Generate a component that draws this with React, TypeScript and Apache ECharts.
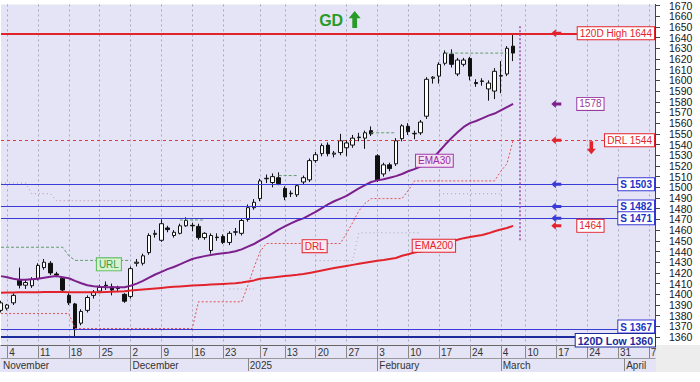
import React, { useEffect, useRef } from "react";
import * as echarts from "echarts";

const tradingDays = [
  "Nov 1",
  "Nov 4", "Nov 5", "Nov 6", "Nov 7", "Nov 8",
  "Nov 11", "Nov 12", "Nov 13", "Nov 14", "Nov 15",
  "Nov 18", "Nov 19", "Nov 20", "Nov 21", "Nov 22",
  "Nov 25", "Nov 26", "Nov 27", "Nov 28", "Nov 29",
  "Dec 2", "Dec 3", "Dec 4", "Dec 5", "Dec 6",
  "Dec 9", "Dec 10", "Dec 11", "Dec 12", "Dec 13",
  "Dec 16", "Dec 17", "Dec 18", "Dec 19", "Dec 20",
  "Dec 23", "Dec 24", "Dec 27", "Dec 30", "Jan 2", "Jan 3",
  "Jan 7", "Jan 8", "Jan 9", "Jan 10",
  "Jan 13", "Jan 14", "Jan 15", "Jan 16", "Jan 17",
  "Jan 20", "Jan 21", "Jan 22", "Jan 23", "Jan 24",
  "Jan 27", "Jan 28", "Jan 29", "Jan 30", "Jan 31",
  "Feb 3", "Feb 4", "Feb 5", "Feb 6", "Feb 7",
  "Feb 10", "Feb 11", "Feb 12", "Feb 13", "Feb 14",
  "Feb 17", "Feb 18", "Feb 19", "Feb 20", "Feb 21",
  "Feb 24", "Feb 25", "Feb 26", "Feb 27", "Feb 28",
  "Mar 4", "Mar 5", "Mar 6", "Mar 7",
  "Mar 10", "Mar 11", "Mar 12", "Mar 13", "Mar 14",
  "Mar 17", "Mar 18", "Mar 19", "Mar 20", "Mar 21",
  "Mar 24", "Mar 25", "Mar 26", "Mar 27", "Mar 28",
  "Mar 31", "Apr 1", "Apr 2", "Apr 3", "Apr 4",
  "Apr 7", "Apr 8",
];

const weekTicks = [
  "Nov 4", "Nov 11", "Nov 18", "Nov 25", "Dec 2", "Dec 9", "Dec 16", "Dec 23",
  "Jan 7", "Jan 13", "Jan 20", "Jan 27", "Feb 3", "Feb 10", "Feb 17", "Feb 24",
  "Mar 4", "Mar 10", "Mar 17", "Mar 24", "Mar 31", "Apr 7",
];

const monthStarts = ["Nov 1", "Dec 2", "Jan 2", "Feb 3", "Mar 4", "Apr 1"];
const monthNames = ["November", "December", "2025", "February", "March", "April"];

// [open, close, low, high]
const candles = [
  [1385, 1392, 1383, 1394], [1387, 1390, 1385, 1391], [1392, 1399, 1390, 1401],
  [1413, 1408.5, 1405.5, 1425], [1408.5, 1411, 1405, 1414], [1408, 1414, 1406, 1416],
  [1415, 1427, 1413, 1429], [1425, 1430, 1423, 1433], [1429, 1420, 1418, 1431],
  [1419, 1418, 1416, 1421], [1415, 1404, 1403, 1416], [1399, 1392, 1390, 1401],
  [1391, 1367, 1360, 1392], [1373, 1384, 1371, 1386], [1385, 1397, 1383, 1399],
  [1399, 1402, 1396, 1404], [1403, 1406.5, 1401, 1409], [1408.5, 1408, 1404, 1412],
  [1407, 1404, 1399, 1410], [1406, 1405.5, 1403, 1408], [1400, 1393.5, 1392, 1401],
  [1398, 1424, 1396, 1426], [1429, 1430, 1426, 1433], [1429, 1436, 1427, 1438],
  [1439, 1455, 1437, 1457], [1456, 1457, 1453, 1460], [1450.5, 1466, 1449, 1470],
  [1462, 1460.5, 1458, 1464], [1455, 1458, 1453, 1460], [1457, 1464, 1456, 1466],
  [1464, 1469, 1463, 1472], [1464.5, 1464, 1459, 1467], [1463.5, 1453, 1451, 1466],
  [1453, 1457, 1451, 1458], [1441, 1455, 1438, 1457], [1453, 1453.5, 1450, 1457],
  [1454, 1448.5, 1447, 1456], [1448.5, 1457, 1446, 1459], [1458, 1458.5, 1455, 1462],
  [1457, 1469, 1455, 1471], [1470, 1481, 1468, 1484], [1481, 1486, 1479, 1489],
  [1489.5, 1506, 1487, 1508], [1508, 1508.5, 1504, 1512], [1504.5, 1510, 1500, 1513],
  [1509, 1503.5, 1502, 1514], [1499, 1491, 1488, 1501], [1494, 1494.5, 1491, 1497],
  [1493, 1501.5, 1491, 1503], [1505, 1509, 1503, 1511], [1507, 1525, 1505, 1527],
  [1525, 1530.5, 1523, 1533], [1531.5, 1539, 1529, 1541], [1539.5, 1531.5, 1529, 1542],
  [1531, 1532, 1528, 1534], [1532.5, 1543.5, 1530, 1550], [1537, 1541.5, 1529, 1544],
  [1539.5, 1546, 1537, 1549], [1546.5, 1547, 1543, 1551], [1546, 1551, 1536, 1553],
  [1553, 1550, 1548, 1557], [1529.5, 1507, 1505, 1531], [1512.5, 1521, 1510, 1523],
  [1521, 1517.5, 1515, 1523], [1522, 1543.5, 1520, 1546], [1545.5, 1557.5, 1543, 1559],
  [1557, 1552, 1549, 1560], [1550, 1550.5, 1545, 1553], [1551, 1561, 1549, 1563],
  [1566.5, 1601, 1564, 1603], [1602, 1603, 1597, 1604], [1604, 1615, 1597, 1617],
  [1616, 1625.5, 1614, 1628], [1624.5, 1615, 1612, 1629], [1606, 1619, 1604, 1621],
  [1615, 1619, 1613, 1621], [1620.5, 1604, 1600, 1622], [1598, 1597, 1594, 1601],
  [1599, 1599.5, 1595, 1602], [1592, 1597.5, 1581, 1600], [1590, 1608.5, 1582.5, 1611.5],
  [1604, 1604.5, 1588, 1618], [1606, 1630, 1604, 1632], [1632, 1625.54, 1618, 1644],
];

const ema30 = [
  1417, 1416, 1414.5, 1413.5, 1413.5, 1414, 1414.5, 1415.5, 1416.5, 1417,
  1416, 1415, 1412.5, 1410.3, 1408.5, 1407.6, 1407, 1406.7, 1406.6, 1406.5,
  1406.6, 1408, 1410, 1412.5, 1415.5, 1418.5, 1421, 1423.5, 1425.5, 1428,
  1430.5, 1433, 1434.5, 1435.7, 1436.8, 1437.6, 1438.3, 1439, 1440.3, 1442,
  1444.5, 1447, 1450.5, 1453.5, 1457, 1460.5, 1463.5, 1466.3, 1469, 1471,
  1474, 1477, 1480.5, 1484, 1487, 1489.5, 1492, 1495.5, 1499, 1502,
  1505, 1506.5, 1507.5, 1509, 1510.5, 1512.5, 1515, 1517, 1519.5, 1522.5,
  1527, 1533.5, 1540, 1546, 1551.5, 1556.5, 1560, 1562, 1564.5, 1567,
  1569, 1572, 1575, 1578,
];

const ema200 = [
  1401.5, 1401.6, 1401.7, 1401.8, 1401.9, 1402, 1402, 1402.1, 1402.2, 1402.2,
  1402.2, 1402, 1401.8, 1401.8, 1401.8, 1401.9, 1402, 1402.2, 1402.4, 1402.6,
  1402.8, 1403.5, 1404, 1404.5, 1405, 1405.5, 1406, 1406.5, 1407, 1407.4,
  1407.8, 1408.2, 1408.5, 1408.8, 1409.1, 1409.4, 1409.7, 1410, 1410.4, 1411,
  1412, 1413, 1414.5, 1415.2, 1415.8, 1416.4, 1417, 1417.6, 1418.2, 1419,
  1420, 1421, 1422.2, 1423.4, 1424.5, 1425.5, 1426.5, 1427.5, 1428.5, 1429.5,
  1430.5, 1431.3, 1432, 1433, 1434, 1436, 1437.5, 1439, 1440, 1441.5,
  1443.5, 1445, 1447, 1449, 1451, 1452.5, 1453.5, 1454.5, 1455.5, 1457,
  1459, 1460.5, 1462, 1464,
];

const drl = [
  1382, 1382, 1382, 1382, 1382, 1382, 1382, 1382, 1382, 1382, 1382, 1382,
  1368, 1368, 1368, 1368, 1368, 1368, 1368, 1368, 1368, 1368,
  1368, 1368, 1368, 1368, 1368, 1368, 1368, 1368, 1368, 1368,
  1393, 1393, 1393, 1393, 1393, 1393, 1393, 1393,
  1408, 1425, 1440,
  1447.5, 1447.5, 1447.5, 1447.5, 1447.5, 1447.5, 1447.5, 1447.5, 1447.5, 1447.5, 1447.5, 1447.5, 1447.5,
  1457, 1467, 1478, 1485,
  1489.5, 1489.5, 1489.5, 1489.5, 1489.5, 1489.5,
  1497, 1506,
  1506, 1506, 1506, 1506, 1506, 1506, 1506, 1506, 1506, 1506, 1506, 1506, 1506,
  1515, 1522, 1544,
];

const url = [
  1444, 1444, 1444, 1444, 1444, 1444, 1444, 1444, 1444, 1444, 1444,
  1436,
  1431.7, 1431.7, 1431.7, 1431.7, 1431.7, 1431.7, 1431.7, 1431.7, 1431.7, 1431.7,
  null, null, null, null, null, null, null,
  1469.5, 1469.5, 1469.5, 1469.5, 1469.5,
  null, null, null, null, null, null, null, null, null, null, null,
  1511, 1511, 1511, 1511,
  null, null, null, null, null, null, null, null, null, null, null,
  1551, 1551, 1551, 1551, 1551,
  null, null, null, null, null, null, null,
  1625.5, 1625.5, 1625.5, 1625.5, 1625.5, 1625.5, 1625.5, 1625.5, 1625.5, 1625.5, 1625.5,
  null,
];

const drlPrev = [
  1504, 1504, 1504, 1504, 1504, 1494, 1494, 1494, 1494,
  1487.5, 1487.5, 1487.5, 1487.5, 1487.5, 1487.5, 1487.5, 1487.5, 1487.5, 1487.5,
  1487.5, 1487.5, 1487.5, 1487.5, 1487.5, 1487.5, 1487.5, 1487.5, 1487.5, 1487.5,
  1487.5, 1487.5, 1487.5, 1487.5, 1487.5, 1487.5, 1487.5, 1487.5, 1487.5, 1487.5, 1487.5,
  null, null, null, null, null, null, null, null, null, null, null, null, null, null, null,
  null, null, null, null, null, null, null, null, null, null, null, null, null, null, null,
  null, null, null, null, null, null, null, null, null, null, null, null, null, null,
];

const urlPrev = [
  null, null, null, null, null, null, null, null, null, null, null, null, null, null, null,
  null, null, null, null, null, null, null, null, null, null, null, null, null, null, null,
  null, null, null, null, null, null, null,
  1405, 1405, 1405, 1405, 1405,
  null, null, null, null, null, null, null, null, null,
  1431.5, 1431.5, 1431.5, 1431.5, 1431.5, 1431.5, 1431.5,
  1457.5, 1457.5, 1457.5, 1457.5, 1457.5, 1457.5, 1457.5, 1457.5, 1457.5, 1457.5, 1457.5,
  null, null,
  1494, 1494, 1494, 1494, 1494, 1494, 1494, 1494, 1494, 1494, 1494,
  null, null,
];

const lastPrice = 1625.54;
const high120 = 1644;
const low120 = 1360;
const drlLevel = 1544;
const supports = [1503, 1482, 1471, 1367];
const ema30Last = 1578;
const ema200Last = 1464;

const FONT = "'Liberation Sans', Arial, sans-serif";
const LAV = "#e4e4f6";
const RED = "#e3232c";
const BLUE = "#3a3ad6";
const NAVY = "#1c2a9c";
const PURPLE = "#7d1f8c";
const GREEN = "#2a9a2a";

const isWeek = (i: number) => weekTicks.indexOf(tradingDays[i]) >= 0;
const isMonth = (i: number) => monthStarts.indexOf(tradingDays[i]) >= 0;

const ARROW_LEFT = "path://M0,4 L5,0 L5,2.5 L11,2.5 L11,5.5 L5,5.5 L5,8 Z";
const ARROW_DOWN = "path://M3,0 L7,0 L7,8 L10,8 L5,14 L0,8 L3,8 Z";
const ARROW_UP = "path://M5,0 L10,7 L7,7 L7,16 L3,16 L3,7 L0,7 Z";

function boxLabel(text: string, color: string, bg: string, border: string, bold = false, size = 10) {
  return {
    show: true,
    formatter: text,
    color,
    backgroundColor: bg,
    borderColor: border,
    borderWidth: 1,
    padding: [1, 2, 0, 2],
    fontSize: size,
    fontWeight: bold ? "bold" : "normal",
    fontFamily: FONT,
    lineHeight: size + 1,
  };
}

function hLine(value: number, color: string, width: number, type: any, text: string, textColor: string, border: string, bold: boolean, position = "insideEnd", distance: any = 1, size = 10) {
  return {
    yAxis: value,
    lineStyle: { color, width, type },
    label: { ...boxLabel(text, textColor, "#ffffff", border, bold, size), position, distance },
  };
}

function arrow(day: string, value: number, color: string) {
  return {
    coord: [day, value],
    symbol: ARROW_LEFT,
    symbolSize: [10, 8],
    itemStyle: { color },
    label: { show: false },
  };
}

function tag(day: string, value: number, label: any) {
  return {
    coord: [day, value],
    symbol: "rect",
    symbolSize: 1,
    itemStyle: { color: "rgba(0,0,0,0)" },
    label,
  };
}

export default function App() {
  const ref = useRef<HTMLDivElement>(null);
  useEffect(() => {
    const chart = echarts.init(ref.current!, undefined, { renderer: "svg" });
    const option: any = {
      animation: false,
      backgroundColor: "#ffffff",
      textStyle: { fontFamily: FONT },
      graphic: [
        { type: "rect", z: -10, shape: { x: 0, y: 345, width: 656, height: 27 }, style: { fill: LAV } },
        { type: "rect", z: -10, shape: { x: 656, y: 345, width: 44, height: 27 }, style: { fill: "#ededed" } },
      ],
      grid: { left: 0, right: 45, top: 3, bottom: 37, show: true, backgroundColor: LAV, borderWidth: 0 },
      xAxis: [
        {
          type: "category",
          data: tradingDays,
          boundaryGap: false,
          position: "bottom",
          axisLine: { show: true, lineStyle: { color: "#666", width: 1 } },
          axisTick: { show: true, interval: (i: number) => isWeek(i), length: 13, lineStyle: { color: "#888" } },
          axisLabel: {
            interval: (i: number) => isWeek(i),
            formatter: (v: string) => v.split(" ")[1],
            align: "left",
            margin: 2,
            padding: [0, 0, 0, 2],
            fontSize: 10,
            color: "#333",
            fontFamily: FONT,
          },
          splitLine: { show: true, interval: (i: number) => isWeek(i), lineStyle: { color: "#a8a8bc", type: [2, 3], width: 1 } },
        },
        {
          type: "category",
          data: tradingDays,
          boundaryGap: false,
          position: "bottom",
          offset: 13,
          axisLine: { show: true, lineStyle: { color: "#999", width: 1 } },
          axisTick: { show: true, interval: (i: number) => i > 0 && isMonth(i), length: 13, lineStyle: { color: "#888" } },
          axisLabel: {
            interval: (i: number) => isMonth(i),
            formatter: (v: string) => monthNames[monthStarts.indexOf(v)],
            align: "left",
            margin: 2,
            padding: [0, 0, 0, 2],
            fontSize: 10,
            color: "#333",
            fontFamily: FONT,
          },
          splitLine: { show: false },
        },
      ],
      yAxis: {
        type: "value",
        position: "right",
        min: 1352.6,
        max: 1671,
        minInterval: 10,
        maxInterval: 10,
        axisLine: { show: true, lineStyle: { color: "#444" } },
        axisTick: { show: true, length: 5, lineStyle: { color: "#444" } },
        axisLabel: {
          margin: 14,
          fontSize: 10.5,
          lineHeight: 10,
          color: "#151520",
          showMinLabel: false,
          showMaxLabel: false,
          fontFamily: FONT,
          formatter: (v: number) => String(Math.round(v)),
        },
        splitLine: { show: false },
      },
      series: [
        {
          name: "DRL prev",
          type: "line",
          data: drlPrev,
          symbol: "none",
          connectNulls: false,
          lineStyle: { color: "#c48c9c", width: 1, type: [1, 3] },
        },
        {
          name: "URL prev",
          type: "line",
          data: urlPrev,
          symbol: "none",
          connectNulls: false,
          lineStyle: { color: "#b0a0b8", width: 1, type: [1, 3] },
        },
        {
          name: "URL",
          type: "line",
          data: url,
          symbol: "none",
          connectNulls: false,
          lineStyle: { color: "#5f9a6a", width: 1, type: [3, 2] },
          markPoint: {
            data: [tag("Nov 26", 1428, { ...boxLabel("URL", "#3f9a3f", "#d6f2cf", "#5cb85c"), position: "inside", offset: [3, 0] })],
          },
        },
        {
          name: "DRL",
          type: "line",
          data: drl,
          symbol: "none",
          lineStyle: { color: "#e45050", width: 1, type: [2, 2] },
          markPoint: {
            data: [tag("Jan 20", 1445, { ...boxLabel("DRL", RED, "#fbeaf0", RED), position: "inside", offset: [-1, 0] })],
          },
        },
        {
          name: "EMA200",
          type: "line",
          data: ema200,
          symbol: "none",
          lineStyle: { color: RED, width: 2 },
          markLine: {
            symbol: ["none", "none"],
            silent: true,
            data: [
              hLine(high120, RED, 2, "solid", "120D High 1644", RED, RED, false),
              hLine(drlLevel, "#e83838", 1, [3, 3], "DRL 1544", RED, RED, false),
              hLine(supports[0], BLUE, 1.2, "solid", "S 1503", "#2232c8", BLUE, true),
              hLine(supports[1], BLUE, 1.2, "solid", "S 1482", "#2232c8", BLUE, true),
              hLine(supports[2], BLUE, 1.2, "solid", "S 1471", "#2232c8", BLUE, true),
              hLine(supports[3], BLUE, 1.2, "solid", "S 1367", "#2232c8", BLUE, true, "insideEndTop", [1, -3]),
              hLine(low120, NAVY, 2, "solid", "120D Low 1360", NAVY, NAVY, true, "insideEndBottom", [0, -3], 10.5),
            ],
          },
          markPoint: {
            data: [
              arrow("Mar 17", high120, RED),
              arrow("Mar 17", ema30Last, PURPLE),
              arrow("Mar 17", drlLevel, RED),
              arrow("Mar 17", supports[0], BLUE),
              arrow("Mar 17", supports[1], BLUE),
              arrow("Mar 17", supports[2], BLUE),
              arrow("Mar 17", ema200Last, RED),
              { coord: ["Mar 25", 1537], symbol: ARROW_DOWN, symbolSize: [9, 13], symbolOffset: [-2, 0], itemStyle: { color: RED }, label: { show: false } },
              { coord: ["Jan 28", 1657], symbol: ARROW_UP, symbolSize: [12, 17], symbolOffset: [2, 0], itemStyle: { color: GREEN }, label: { show: false } },
              tag("Jan 23", 1656, { show: true, formatter: "GD", position: "inside", offset: [-3, 0], color: GREEN, fontSize: 16, fontWeight: "bold", fontFamily: FONT }),
              tag("Mar 20", ema30Last, { ...boxLabel("1578", "#9a3aa0", "#ffffff", "#9a3aa0"), position: "right", distance: 2 }),
              tag("Mar 20", ema200Last, { ...boxLabel("1464", RED, "#ffffff", RED), position: "right", distance: 2 }),
              tag("Feb 14", 1445.3, { ...boxLabel("EMA200", RED, "#fbeaf0", RED), position: "inside", offset: [1, 0] }),
            ],
          },
        },
        {
          name: "EMA30",
          type: "line",
          data: ema30,
          symbol: "none",
          lineStyle: { color: PURPLE, width: 2 },
          markPoint: {
            data: [tag("Feb 14", 1524.8, { ...boxLabel("EMA30", "#9a2aa0", "#f3e2f4", "#a03aa8"), position: "inside", offset: [1.5, 0] })],
          },
        },
        {
          name: "Price",
          type: "candlestick",
          data: candles,
          barWidth: 4,
          itemStyle: { color: "#ffffff", color0: "#111111", borderColor: "#111111", borderColor0: "#111111", borderWidth: 1 },
          markLine: {
            symbol: ["none", "none"],
            silent: true,
            data: [
              {
                yAxis: lastPrice,
                lineStyle: { opacity: 0 },
                label: {
                  show: true,
                  position: "end",
                  distance: 3,
                  formatter: "1625.54",
                  color: "#ff2020",
                  backgroundColor: "#000000",
                  padding: [0, 2, 0, 2],
                  fontSize: 10.5,
                  lineHeight: 9,
                  fontWeight: "bold",
                  fontFamily: FONT,
                },
              },
              [
                { coord: ["Mar 7", 1650.5], lineStyle: { color: "#a04aa8", width: 1.5, type: [2, 2] }, label: { show: false } },
                { coord: ["Mar 7", 1450] },
              ],
            ],
          },
        },
      ],
    };
    chart.setOption(option);
    return () => chart.dispose();
  }, []);
  return <div ref={ref} style={{ position: "absolute", left: 0, top: 0, width: 700, height: 382 }} />;
}
